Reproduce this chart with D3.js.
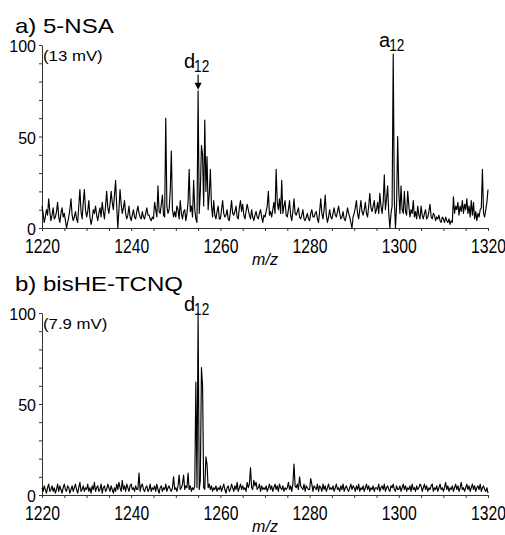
<!DOCTYPE html>
<html lang="en">

<head>
    <meta charset="UTF-8" />
    <style>
        body { margin: 0; background: #fff; }
        text { font-family: "Liberation Sans", Arial, sans-serif; fill: #000; }
    </style>
</head>

<body>
    <svg width="505" height="535"></svg>
    <script src="https://d3js.org/d3.v7.min.js"></script>
    <script>
        // m/z grid of the spectra (0.25 step)
        var mzStart = 1220, mzEnd = 1320, mzStep = 0.25;
        var xTickLabels = [1220, 1240, 1260, 1280, 1300, 1320];
        var yTickLabels = [0, 50, 100];

        // a) 5-NSA, relative intensity (%), one row per 5 m/z
        var nsaIntensity = [
            12, 8, 3, 6, 10, 7, 16, 9, 4, 7, 11, 5, 6, 9, 14, 6, 3, 8, 11, 6,
            8, 4, 0, 3, 6, 10, 16, 7, 4, 6, 9, 5, 3, 12, 21, 9, 5, 14, 21, 10,
            6, 9, 15, 6, 2, 5, 10, 8, 12, 7, 4, 8, 11, 6, 14, 9, 5, 12, 20, 11,
            8, 13, 20, 14, 10, 18, 26, 12, 0, 10, 21, 13, 8, 11, 15, 8, 5, 7, 12, 6,
            4, 7, 10, 6, 5, 9, 12, 8, 6, 5, 9, 6, 5, 8, 11, 7, 7, 5, 4, 6,
            5, 14, 10, 6, 23, 9, 8, 13, 18, 7, 6, 60, 12, 8, 10, 20, 42, 10, 6, 9,
            6, 12, 10, 5, 15, 8, 5, 9, 10, 4, 8, 14, 32, 9, 12, 6, 26, 10, 5, 3,
            75, 8, 20, 45, 40, 12, 59, 20, 39, 10, 18, 32, 12, 6, 15, 7, 5, 9, 12, 5,
            5, 10, 15, 8, 6, 7, 10, 5, 4, 9, 15, 8, 7, 9, 12, 6, 5, 11, 15, 9,
            13, 7, 5, 9, 13, 10, 7, 5, 10, 6, 4, 7, 9, 6, 5, 8, 10, 6, 3, 7,
            6, 9, 12, 20, 7, 9, 6, 10, 14, 8, 32, 14, 10, 16, 8, 26, 8, 12, 15, 7,
            6, 10, 15, 7, 4, 9, 16, 8, 7, 9, 11, 6, 5, 7, 10, 5, 4, 6, 8, 5,
            4, 8, 10, 6, 6, 8, 9, 5, 3, 9, 16, 8, 5, 10, 18, 7, 3, 6, 10, 6,
            5, 8, 11, 7, 6, 9, 12, 8, 5, 6, 9, 5, 4, 7, 11, 8, 6, 3, 0, 6,
            8, 11, 15, 8, 5, 10, 15, 9, 7, 10, 14, 8, 6, 12, 19, 11, 9, 12, 15, 8,
            10, 14, 8, 19, 12, 8, 14, 29, 10, 16, 23, 8, 0, 8, 12, 95, 15, 0, 12, 50,
            20, 8, 23, 10, 8, 20, 9, 7, 20, 12, 6, 10, 8, 15, 6, 9, 5, 12, 7, 5,
            12, 7, 5, 8, 10, 5, 6, 9, 13, 6, 5, 8, 7, 4, 6, 5, 7, 4, 3, 6,
            5, 3, 6, 4, 3, 5, 2, 4, 3, 17, 8, 12, 10, 14, 7, 12, 9, 15, 8, 13,
            10, 16, 8, 12, 6, 15, 7, 14, 5, 9, 4, 8, 6, 10, 11, 32, 8, 6, 10, 14,
            21
        ];

        // b) bisHE-TCNQ, relative intensity (%), one row per 5 m/z
        var tcnqIntensity = [
            4, 2, 5, 3, 1, 4, 6, 2, 3, 5, 2, 4, 1, 3, 6, 2, 5, 3, 1, 4,
            6, 3, 2, 5, 4, 1, 3, 5, 2, 4, 6, 3, 1, 4, 7, 2, 3, 5, 2, 4,
            3, 6, 2, 4, 1, 5, 3, 7, 2, 4, 5, 2, 3, 6, 1, 4, 5, 2, 3, 6,
            4, 2, 5, 3, 1, 4, 2, 6, 3, 7, 4, 2, 8, 3, 5, 2, 6, 4, 2, 5,
            6, 3, 4, 2, 5, 3, 3, 12, 2, 5, 6, 3, 2, 4, 5, 2, 3, 6, 2, 4,
            3, 5, 2, 6, 3, 1, 4, 5, 2, 4, 3, 6, 2, 4, 5, 3, 2, 4, 10, 3,
            4, 2, 5, 11, 3, 4, 6, 11, 3, 5, 4, 12, 3, 5, 2, 4, 3, 5, 62, 4,
            100, 3, 8, 70, 60, 4, 3, 21, 17, 4, 6, 3, 5, 2, 4, 3, 5, 2, 4, 3,
            5, 2, 4, 6, 3, 1, 4, 5, 2, 3, 6, 4, 2, 5, 3, 7, 2, 4, 6, 3,
            5, 3, 4, 2, 7, 4, 6, 15, 4, 3, 8, 5, 7, 3, 4, 6, 2, 5, 3, 4,
            3, 5, 2, 4, 6, 3, 5, 2, 4, 6, 3, 5, 2, 6, 4, 3, 5, 2, 4, 3,
            4, 7, 3, 5, 2, 6, 17, 5, 4, 6, 3, 10, 5, 4, 3, 6, 2, 5, 4, 3,
            3, 9, 6, 2, 5, 4, 3, 6, 2, 5, 4, 2, 6, 3, 5, 2, 4, 6, 3, 4,
            3, 5, 2, 4, 6, 3, 4, 2, 5, 3, 6, 2, 4, 5, 3, 2, 4, 6, 3, 5,
            4, 2, 5, 3, 6, 2, 4, 3, 5, 2, 4, 6, 3, 5, 2, 4, 3, 5, 2, 4,
            4, 3, 6, 2, 4, 5, 3, 6, 2, 4, 5, 3, 2, 5, 4, 6, 3, 2, 5, 3,
            3, 5, 2, 4, 6, 3, 5, 2, 4, 3, 5, 2, 6, 3, 4, 2, 5, 3, 4, 6,
            5, 2, 4, 6, 3, 5, 2, 4, 3, 5, 6, 2, 4, 3, 5, 2, 4, 6, 3, 4,
            2, 4, 7, 3, 5, 2, 4, 3, 5, 2, 4, 6, 3, 5, 2, 4, 7, 3, 4, 2,
            4, 6, 3, 5, 2, 4, 6, 3, 5, 2, 4, 5, 3, 6, 2, 4, 5, 3, 2, 4,
            1
        ];

        var svg = d3.select("svg");
        var x = d3.scaleLinear().domain([mzStart, mzEnd]).range([42, 488]);

        function drawPanel(p) {
            var y = d3.scaleLinear().domain([0, 100]).range([p.bottom, p.top]);
            var g = svg.append("g");

            g.append("text")
                .attr("transform", "translate(15," + p.titleY + ") scale(1.2,1)")
                .style("font-size", "20px")
                .text(p.title);

            g.append("text")
                .attr("transform", "translate(43," + (p.top + 16) + ") scale(1.2,1)")
                .style("font-size", "14px")
                .text(p.signal);

            // x axis
            var xa = g.append("g")
                .attr("transform", "translate(0," + p.bottom + ")")
                .call(d3.axisBottom(x)
                    .tickValues(d3.range(mzStart, mzEnd + 1, 5))
                    .tickSize(3).tickSizeOuter(0).tickPadding(7)
                    .tickFormat(function (d) { return xTickLabels.indexOf(d) >= 0 ? d : ""; }));
            xa.select(".domain").attr("stroke", "#333");
            xa.selectAll(".tick line").attr("stroke", "#333");
            xa.selectAll("text")
                .style("font-size", "21px")
                .style("font-family", "'Liberation Sans', Arial, sans-serif")
                .attr("fill", "#000")
                .attr("transform", "scale(0.75,1)");

            // y axis
            var ya = g.append("g")
                .attr("transform", "translate(" + x(mzStart) + ",0)")
                .call(d3.axisLeft(y)
                    .tickValues(d3.range(0, 101, 10))
                    .tickSize(3).tickSizeOuter(0).tickPadding(3)
                    .tickFormat(function (d) { return yTickLabels.indexOf(d) >= 0 ? d : ""; }));
            ya.select(".domain").attr("stroke", "#333");
            ya.selectAll(".tick line").attr("stroke", "#333");
            ya.selectAll("text")
                .style("font-size", "16px")
                .style("font-family", "'Liberation Sans', Arial, sans-serif")
                .attr("fill", "#000")
                .attr("dy", "0.42em");

            g.append("text")
                .attr("x", (x.range()[0] + x.range()[1]) / 2)
                .attr("y", p.bottom + 37)
                .attr("text-anchor", "middle")
                .style("font-size", "16px")
                .style("font-style", "italic")
                .text("m/z");

            // spectrum
            var line = d3.line()
                .x(function (d, i) { return x(mzStart + i * mzStep); })
                .y(function (d) { return y(d); });
            g.append("path")
                .datum(p.values)
                .attr("fill", "none")
                .attr("stroke", "#000")
                .attr("stroke-width", 1.15)
                .attr("stroke-linejoin", "round")
                .attr("d", line);

            // peak labels
            p.labels.forEach(function (a) {
                var px = x(a.mz), base = y(a.value);
                g.append("text")
                    .attr("x", px - 3).attr("y", base + a.dy)
                    .attr("text-anchor", "end")
                    .style("font-size", "20px")
                    .text(a.sym);
                g.append("text")
                    .attr("transform", "translate(" + (px - 4) + "," + (base + a.dy + 4) + ") scale(0.85,1)")
                    .style("font-size", "16px")
                    .text(a.sub);
                if (a.arrow) {
                    g.append("line")
                        .attr("x1", px).attr("x2", px)
                        .attr("y1", base - 16).attr("y2", base - 6)
                        .attr("stroke", "#000").attr("stroke-width", 1.2);
                    g.append("path")
                        .attr("d", "M" + (px - 3.5) + "," + (base - 8) + "L" + (px + 3.5) + "," + (base - 8) + "L" + px + "," + (base - 1) + "Z")
                        .attr("fill", "#000");
                }
            });
        }

        drawPanel({
            title: "a) 5-NSA", titleY: 33, signal: "(13 mV)",
            top: 45, bottom: 228, values: nsaIntensity,
            labels: [
                { mz: 1255, value: 75, sym: "d", sub: "12", dy: -23, arrow: true },
                { mz: 1298.75, value: 95, sym: "a", sub: "12", dy: -7 }
            ]
        });

        drawPanel({
            title: "b) bisHE-TCNQ", titleY: 291, signal: "(7.9 mV)",
            top: 313, bottom: 495, values: tcnqIntensity,
            labels: [
                { mz: 1255, value: 100, sym: "d", sub: "12", dy: -2 }
            ]
        });
    </script>
</body>

</html>
